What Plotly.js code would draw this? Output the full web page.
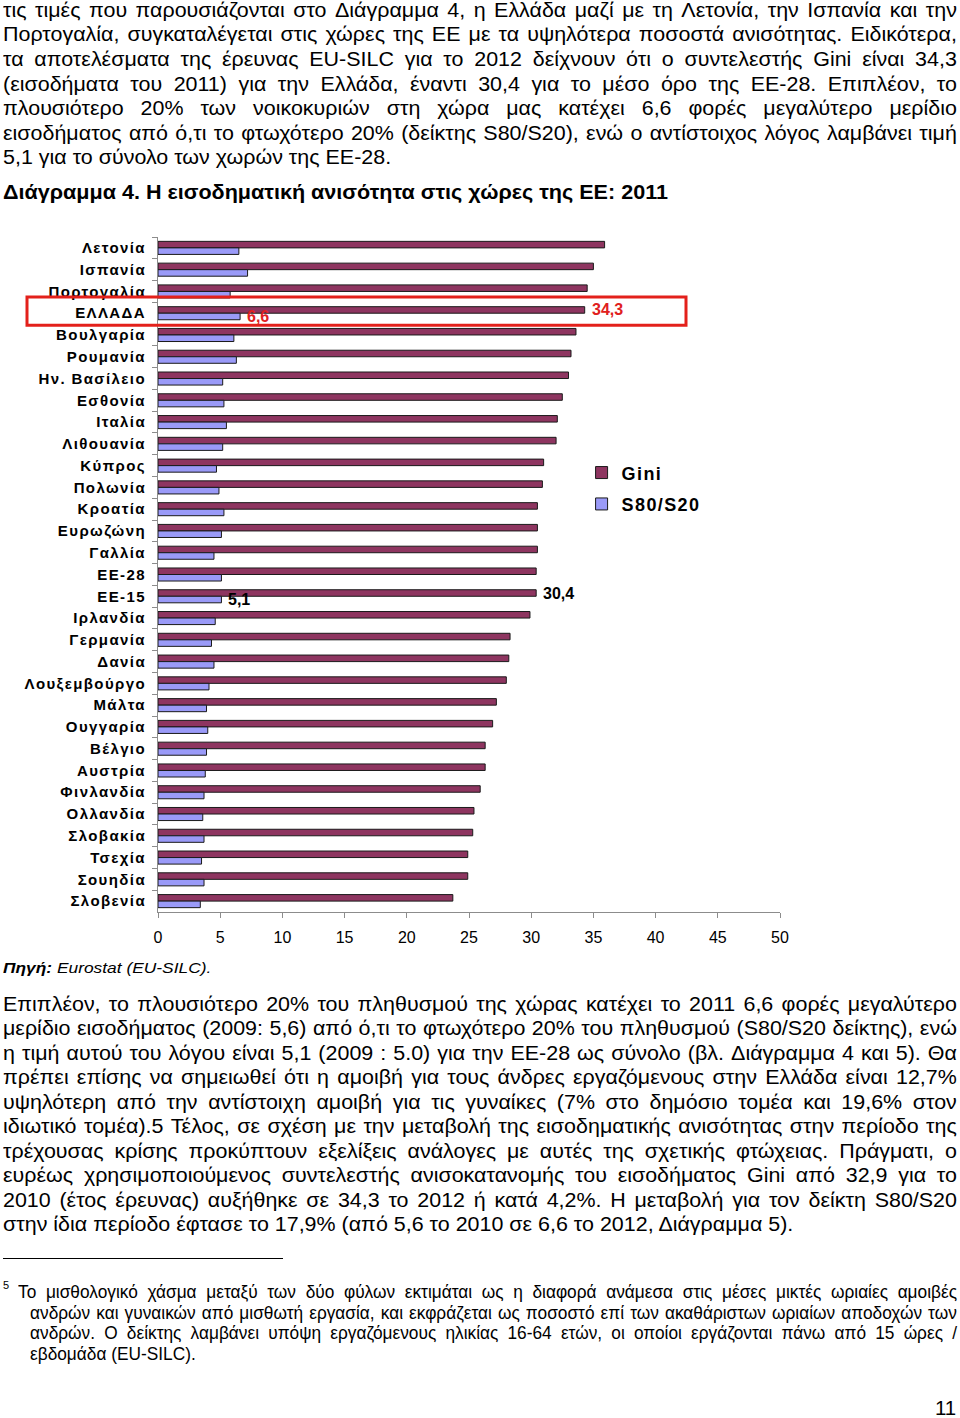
<!DOCTYPE html>
<html>
<head>
<meta charset="utf-8">
<script src="https://cdn.plot.ly/plotly-3.0.1.min.js"></script>
<style>
  html, body { margin:0; padding:0; background:#fff; }
  #page { position:relative; width:960px; height:1418px; overflow:hidden; background:#fff; font-family:"Liberation Sans", Arial, sans-serif; color:#000; }
  #chart { position:absolute; left:0; top:0; width:960px; height:1418px; }
  .txt { position:absolute; z-index:5; pointer-events:none; }
  .jl { display:flex; justify-content:space-between; white-space:nowrap; transform-origin:0 0; }
  .nl { white-space:nowrap; transform-origin:0 0; }
  .ytick text { letter-spacing:1.4px; }
  .legendtext { letter-spacing:1.4px; }
</style>
</head>
<body>
<div id="page">
  <div id="chart"></div>
</div>
<script>
// ---- data ----
const countries = ["Λετονία","Ισπανία","Πορτογαλία","ΕΛΛΑΔΑ","Βουλγαρία","Ρουμανία","Ην. Βασίλειο","Εσθονία","Ιταλία","Λιθουανία","Κύπρος","Πολωνία","Κροατία","Ευρωζώνη","Γαλλία","ΕΕ-28","ΕΕ-15","Ιρλανδία","Γερμανία","Δανία","Λουξεμβούργο","Μάλτα","Ουγγαρία","Βέλγιο","Αυστρία","Φινλανδία","Ολλανδία","Σλοβακία","Τσεχία","Σουηδία","Σλοβενία"];
const gini = [35.9,35.0,34.5,34.3,33.6,33.2,33.0,32.5,32.1,32.0,31.0,30.9,30.5,30.5,30.5,30.4,30.4,29.9,28.3,28.2,28.0,27.2,26.9,26.3,26.3,25.9,25.4,25.3,24.9,24.9,23.7];
const s80s20 = [6.5,7.2,5.8,6.6,6.1,6.3,5.2,5.3,5.5,5.2,4.7,4.9,5.3,5.1,4.5,5.1,5.1,4.6,4.3,4.5,4.1,3.9,4.0,3.9,3.8,3.7,3.6,3.7,3.5,3.7,3.4];
const seriesNames = ["Gini","S80/S20"];
const xTicks = [0,5,10,15,20,25,30,35,40,45,50];

const para1 = [
 "τις τιμές που παρουσιάζονται στο Διάγραμμα 4, η Ελλάδα μαζί με τη Λετονία, την Ισπανία και την",
 "Πορτογαλία, συγκαταλέγεται στις χώρες της ΕΕ με τα υψηλότερα ποσοστά ανισότητας. Ειδικότερα,",
 "τα αποτελέσματα της έρευνας EU-SILC για το 2012 δείχνουν ότι ο συντελεστής Gini είναι 34,3",
 "(εισοδήματα του 2011) για την Ελλάδα, έναντι 30,4 για το μέσο όρο της ΕΕ-28. Επιπλέον, το",
 "πλουσιότερο 20% των νοικοκυριών στη χώρα μας κατέχει 6,6 φορές μεγαλύτερο μερίδιο",
 "εισοδήματος από ό,τι το φτωχότερο 20% (δείκτης S80/S20), ενώ ο αντίστοιχος λόγος λαμβάνει τιμή",
 "5,1 για το σύνολο των χωρών της ΕΕ-28."
];
const para2 = [
 "Επιπλέον, το πλουσιότερο 20% του πληθυσμού της χώρας κατέχει το 2011 6,6 φορές μεγαλύτερο",
 "μερίδιο εισοδήματος (2009: 5,6) από ό,τι το φτωχότερο 20% του πληθυσμού (S80/S20 δείκτης), ενώ",
 "η τιμή αυτού του λόγου είναι 5,1 (2009 : 5.0) για την ΕΕ-28 ως σύνολο (βλ. Διάγραμμα 4 και 5). Θα",
 "πρέπει επίσης να σημειωθεί ότι η αμοιβή για τους άνδρες εργαζόμενους στην Ελλάδα είναι 12,7%",
 "υψηλότερη από την αντίστοιχη αμοιβή για τις γυναίκες (7% στο δημόσιο τομέα και 19,6% στον",
 "ιδιωτικό τομέα).5 Τέλος, σε σχέση με την μεταβολή της εισοδηματικής ανισότητας στην περίοδο της",
 "τρέχουσας κρίσης προκύπτουν εξελίξεις ανάλογες με αυτές της σχετικής φτώχειας. Πράγματι, ο",
 "ευρέως χρησιμοποιούμενος συντελεστής ανισοκατανομής του εισοδήματος Gini από 32,9 για το",
 "2010 (έτος έρευνας) αυξήθηκε σε 34,3 το 2012 ή κατά 4,2%. Η μεταβολή για τον δείκτη S80/S20",
 "στην ίδια περίοδο έφτασε το 17,9% (από 5,6 το 2010 σε 6,6 το 2012, Διάγραμμα 5)."
];
const footnote = [
 "Το μισθολογικό χάσμα μεταξύ των δύο φύλων εκτιμάται ως η διαφορά ανάμεσα στις μέσες μικτές ωριαίες αμοιβές",
 "ανδρών και γυναικών από μισθωτή εργασία, και εκφράζεται ως ποσοστό επί των ακαθάριστων ωριαίων αποδοχών των",
 "ανδρών. Ο δείκτης λαμβάνει υπόψη εργαζόμενους ηλικίας 16-64 ετών, οι οποίοι εργάζονται πάνω από 15 ώρες /",
 "εβδομάδα (EU-SILC)."
];

// ---- text blocks ----
const page = document.getElementById('page');
function block(lines, left, top, width, fontSize, lineH, sx, extraStyle, leftFn) {
  const wrap = document.createElement('div');
  wrap.className = 'txt';
  wrap.style.left = left + 'px';
  wrap.style.top = top + 'px';
  wrap.style.width = width + 'px';
  wrap.style.fontSize = fontSize + 'px';
  wrap.style.lineHeight = lineH + 'px';
  if (extraStyle) Object.assign(wrap.style, extraStyle);
  lines.forEach((ln, i) => {
    const d = document.createElement('div');
    const justify = i < lines.length - 1;
    const ml = leftFn ? leftFn(i) : 0;
    d.style.marginLeft = ml + 'px';
    d.style.transform = 'scaleX(' + sx + ')';
    if (justify) {
      d.className = 'jl';
      d.style.width = ((width - ml) / sx) + 'px';
      ln.split(' ').forEach(w => { const s = document.createElement('span'); s.textContent = w; d.appendChild(s); });
    } else {
      d.className = 'nl';
      d.textContent = ln;
    }
    wrap.appendChild(d);
  });
  page.appendChild(wrap);
  return wrap;
}
block(para1, 3, -2.3, 954, 19.5, 24.63, 1.1);
block(para2, 3, 991.5, 954, 19.5, 24.5, 1.1);

function single(html, left, top, size, lh, sx, style) {
  const t = document.createElement('div');
  t.className = 'txt nl';
  t.style.left = left + 'px'; t.style.top = top + 'px';
  t.style.fontSize = size + 'px'; t.style.lineHeight = lh + 'px';
  t.style.transform = 'scaleX(' + sx + ')';
  if (style) Object.assign(t.style, style);
  t.innerHTML = html;
  page.appendChild(t);
  return t;
}
single('Διάγραμμα 4. Η εισοδηματική ανισότητα στις χώρες της ΕΕ: 2011', 3, 180, 20, 24, 1.078, {fontWeight:'bold'});
single('<b>Πηγή:</b> Eurostat (EU-SILC).', 3, 958, 15.5, 20, 1.12, {fontStyle:'italic'});
single('5', 3, 1279, 11, 12, 1);
single('11', 935, 1396, 19.5, 24, 1.05);
(function(){
  const hr = document.createElement('div');
  hr.className = 'txt';
  hr.style.left = '3px'; hr.style.top = '1258px'; hr.style.width = '280px'; hr.style.height = '1px'; hr.style.background = '#000';
  page.appendChild(hr);
})();
block(footnote, 18, 1282, 939, 18, 20.7, 0.96, null, i => i === 0 ? 0 : 12);

// ---- chart ----
const F = '"Liberation Sans", Arial, sans-serif';
const traces = [
  { type:'bar', orientation:'h', name:seriesNames[0], y:countries, x:gini, legendgroup:'a',
    marker:{color:'#8E3560', line:{color:'#1a1a1a', width:1}}, hoverinfo:'x+y' },
  { type:'bar', orientation:'h', name:seriesNames[1], y:countries, x:s80s20, legendgroup:'b',
    marker:{color:'#9A9AF8', line:{color:'#1a1a1a', width:1}}, hoverinfo:'x+y' }
];
const gi = countries.indexOf('ΕΛΛΑΔΑ');
const ei = countries.indexOf('ΕΕ-15');
const layout = {
  width:960, height:1418,
  margin:{l:158, r:180, t:237, b:506},
  paper_bgcolor:'rgba(0,0,0,0)', plot_bgcolor:'rgba(0,0,0,0)',
  font:{family:F, color:'#000'},
  barmode:'group', bargap:0.4, bargroupgap:0,
  showlegend:true,
  legend:{x:0.681, y:0.678, xanchor:'left', yanchor:'top', traceorder:'grouped', tracegroupgap:5,
          font:{family:F, size:18, color:'#000', weight:'bold'}, bgcolor:'rgba(0,0,0,0)', itemwidth:30},
  xaxis:{range:[0,50], tickvals:xTicks, ticktext:xTicks.map(String), showgrid:false, zeroline:false,
         showline:true, linecolor:'#8c8c8c', linewidth:1, ticks:'outside', ticklen:5, tickcolor:'#8c8c8c',
         tickfont:{family:F, size:16, color:'#000'}, ticklabelstandoff:6, automargin:false, fixedrange:true},
  yaxis:{type:'category', autorange:'reversed', showgrid:false, zeroline:false, showline:true,
         linecolor:'#8c8c8c', linewidth:1, ticks:'outside', ticklen:5, tickcolor:'#8c8c8c', tickson:'boundaries',
         tickfont:{family:F, size:15, color:'#000', weight:'bold'}, ticklabelstandoff:8, automargin:false, fixedrange:true},
  annotations:[
    {x:gini[gi], y:countries[gi], xref:'x', yref:'y', text:'34,3', showarrow:false, xanchor:'left', xshift:5, yshift:4,
     font:{family:F, size:16, color:'#E02020', weight:'bold'}},
    {x:s80s20[gi], y:countries[gi], xref:'x', yref:'y', text:'6,6', showarrow:false, xanchor:'left', xshift:5, yshift:-3,
     font:{family:F, size:16, color:'#E02020', weight:'bold'}},
    {x:gini[ei], y:countries[ei], xref:'x', yref:'y', text:'30,4', showarrow:false, xanchor:'left', xshift:5, yshift:3,
     font:{family:F, size:16, color:'#000', weight:'bold'}},
    {x:s80s20[ei], y:countries[ei], xref:'x', yref:'y', text:'5,1', showarrow:false, xanchor:'left', xshift:5, yshift:-3,
     font:{family:F, size:16, color:'#000', weight:'bold'}}
  ],
  shapes:[
    {type:'rect', xref:'paper', yref:'y', x0:(27-158)/622, x1:(686-158)/622, y0:gi-0.74, y1:gi+0.55,
     line:{color:'#E3201B', width:3}, fillcolor:'rgba(0,0,0,0)'}
  ]
};
Plotly.newPlot('chart', traces, layout, {displayModeBar:false, staticPlot:true});
</script>
</body>
</html>
